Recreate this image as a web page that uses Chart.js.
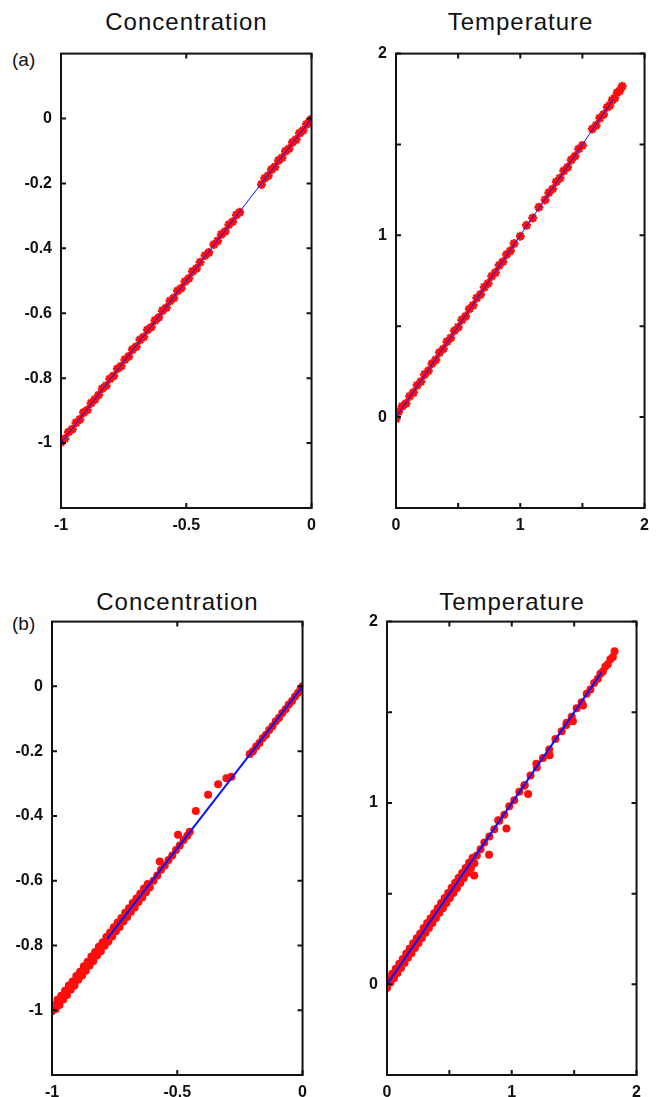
<!DOCTYPE html>
<html>
<head>
<meta charset="utf-8">
<script src="https://cdn.jsdelivr.net/npm/chart.js@4/dist/chart.umd.min.js"></script>
<style>
  body { margin: 0; background: #fff; }
  #wrap { position: relative; width: 657px; height: 1097px; overflow: hidden; background: #fff; }
  canvas { position: absolute; }
  .title { position: absolute; font-family: "Liberation Sans", Arial, sans-serif; font-size: 24px; line-height: 24px; letter-spacing: 1px; text-align: center; color: #111; }
  .tag { position: absolute; font-family: "Liberation Sans", Arial, sans-serif; font-size: 19px; line-height: 19px; color: #111; }
</style>
</head>
<body>
<div id="wrap">
  <div class="title" id="t1">Concentration</div>
  <div class="title" id="t2">Temperature</div>
  <div class="title" id="t3">Concentration</div>
  <div class="title" id="t4">Temperature</div>
  <div class="tag" style="left:12px;top:50px">(a)</div>
  <div class="tag" style="left:12px;top:614px">(b)</div>
  <canvas id="c1"></canvas>
  <canvas id="c2"></canvas>
  <canvas id="c3"></canvas>
  <canvas id="c4"></canvas>
</div>
<script>
// tick values / labels
const concTicksX = [-1, -0.5, 0];
const concLabelsX = ["-1", "-0.5", "0"];
const concTicksY = [-1, -0.8, -0.6, -0.4, -0.2, 0];
const concLabelsY = ["-1", "-0.8", "-0.6", "-0.4", "-0.2", "0"];
const tempTicks = [0, 0.5, 1, 1.5, 2];
const tempLabels = ["0", "", "1", "", "2"];

// (a) concentration: predicted vs actual
const concAX = [-1, -0.985, -0.97, -0.955, -0.94, -0.925, -0.91, -0.895, -0.88, -0.865, -0.85, -0.835, -0.82, -0.805,
  -0.79, -0.775, -0.76, -0.745, -0.73, -0.715, -0.7, -0.685, -0.67, -0.655, -0.64, -0.625, -0.61, -0.595, -0.58,
  -0.565, -0.55, -0.535, -0.52, -0.505, -0.49, -0.475, -0.46, -0.445, -0.425, -0.41, -0.39, -0.375, -0.36, -0.345,
  -0.33, -0.315, -0.3, -0.287, -0.2, -0.187, -0.173, -0.16, -0.146, -0.132, -0.118, -0.104, -0.09, -0.076, -0.062,
  -0.048, -0.034, -0.02, -0.008, 0];
const concAY = [-0.998, -0.987, -0.966, -0.957, -0.937, -0.927, -0.906, -0.898, -0.877, -0.866, -0.852, -0.832, -0.823, -0.802,
  -0.793, -0.771, -0.763, -0.743, -0.733, -0.712, -0.703, -0.682, -0.673, -0.651, -0.643, -0.622, -0.613, -0.592, -0.583,
  -0.562, -0.553, -0.531, -0.523, -0.502, -0.493, -0.471, -0.462, -0.443, -0.422, -0.413, -0.388, -0.377, -0.357, -0.348,
  -0.327, -0.318, -0.297, -0.289, -0.203, -0.184, -0.176, -0.157, -0.149, -0.129, -0.121, -0.101, -0.093, -0.073, -0.065,
  -0.045, -0.037, -0.018, -0.01, -0.002];
const concALine = [-1, 0];

// (a) temperature
const tempAX = [0, 0.02, 0.05, 0.08, 0.11, 0.14, 0.17, 0.2, 0.23, 0.26, 0.29, 0.32, 0.35, 0.38, 0.41, 0.44, 0.47, 0.5,
  0.53, 0.56, 0.59, 0.62, 0.65, 0.68, 0.71, 0.74, 0.77, 0.8, 0.83, 0.86, 0.89, 0.92, 0.95, 1.0, 1.05, 1.1, 1.15, 1.2,
  1.23, 1.26, 1.29, 1.32, 1.35, 1.38, 1.41, 1.44, 1.47, 1.5, 1.58, 1.61, 1.64, 1.67, 1.7, 1.72, 1.74, 1.76, 1.78, 1.8, 1.82];
const tempAY = [-0.01, 0.03, 0.06, 0.075, 0.115, 0.135, 0.175, 0.195, 0.235, 0.255, 0.295, 0.315, 0.355, 0.375, 0.415, 0.435,
  0.475, 0.495, 0.535, 0.555, 0.595, 0.615, 0.655, 0.675, 0.715, 0.735, 0.775, 0.795, 0.835, 0.855, 0.895, 0.915, 0.955,
  0.995, 1.055, 1.095, 1.155, 1.195, 1.235, 1.255, 1.295, 1.315, 1.355, 1.375, 1.415, 1.435, 1.475, 1.495, 1.585, 1.605,
  1.645, 1.665, 1.705, 1.715, 1.745, 1.755, 1.785, 1.795, 1.82];
const tempALine = [0, 1.75];

// (b) concentration
const concBX = [-1, -0.985, -0.97, -0.955, -0.94, -0.925, -0.91, -0.895, -0.88, -0.865, -0.85, -0.835, -0.82, -0.805,
  -0.79, -0.775, -0.76, -0.745, -0.73, -0.715, -0.7, -0.685, -0.67, -0.655, -0.64, -0.625, -0.61,
  -0.993, -0.978, -0.963, -0.948, -0.933, -0.918, -0.903, -0.888, -0.873, -0.858, -0.843, -0.828, -0.813, -0.798,
  -0.783, -0.768, -0.753, -0.738, -0.723, -0.708, -0.693, -0.678, -0.663, -0.648, -0.633, -0.618,
  -0.595, -0.58, -0.565, -0.55, -0.535, -0.52, -0.505, -0.49, -0.475, -0.46, -0.45,
  -0.57, -0.497, -0.426, -0.377, -0.337, -0.304, -0.284,
  -0.211, -0.198, -0.185, -0.172, -0.159, -0.146, -0.133, -0.12, -0.107, -0.094, -0.081, -0.068, -0.055, -0.042,
  -0.03, -0.018, -0.008, 0];
const concBY = [-1.003, -0.996, -0.984, -0.967, -0.953, -0.936, -0.924, -0.906, -0.893, -0.878, -0.862, -0.848, -0.831, -0.818,
  -0.801, -0.788, -0.772, -0.756, -0.743, -0.726, -0.712, -0.696, -0.683, -0.666, -0.652, -0.636, -0.621,
  -0.985, -0.968, -0.955, -0.94, -0.924, -0.911, -0.894, -0.881, -0.864, -0.85, -0.834, -0.82, -0.804, -0.79,
  -0.774, -0.76, -0.744, -0.729, -0.715, -0.699, -0.685, -0.669, -0.655, -0.64, -0.624, -0.61,
  -0.6, -0.584, -0.566, -0.553, -0.536, -0.522, -0.505, -0.491, -0.474, -0.461, -0.449,
  -0.541, -0.458, -0.385, -0.335, -0.302, -0.284, -0.279,
  -0.209, -0.2, -0.186, -0.175, -0.16, -0.149, -0.135, -0.123, -0.108, -0.097, -0.082, -0.071, -0.056, -0.045,
  -0.031, -0.02, -0.008, 0];
const concBLine = [-0.78, 0];

// (b) temperature
const tempBX = [0, 0.028, 0.056, 0.084, 0.112, 0.14, 0.168, 0.196, 0.224, 0.252, 0.28, 0.308, 0.336, 0.364, 0.392, 0.42,
  0.448, 0.476, 0.504, 0.532, 0.56, 0.588, 0.616, 0.644, 0.672, 0.7,
  0.014, 0.042, 0.07, 0.098, 0.126, 0.154, 0.182, 0.21, 0.238, 0.266, 0.294, 0.322, 0.35, 0.378, 0.406, 0.434, 0.462,
  0.49, 0.518, 0.546, 0.574, 0.602, 0.63, 0.658, 0.686,
  0.72, 0.75, 0.78, 0.82, 0.86, 0.9, 0.94, 0.98, 1.02, 1.06, 1.1, 1.15, 1.2, 1.25, 1.3, 1.35, 1.4, 1.44, 1.48, 1.52,
  1.56, 1.6, 1.63, 1.66, 1.69, 1.71, 1.73, 1.75, 1.77, 1.79, 1.81, 1.824,
  1.571, 1.49, 1.304, 1.131, 1.104, 0.957, 0.891, 0.818, 0.699, 1.197, 1.437];
const tempBY = [-0.02, 0.01, 0.034, 0.062, 0.09, 0.118, 0.146, 0.172, 0.2, 0.228, 0.256, 0.284, 0.31, 0.338, 0.366, 0.394,
  0.42, 0.448, 0.476, 0.504, 0.53, 0.558, 0.586, 0.614, 0.64, 0.668,
  0.03, 0.058, 0.086, 0.114, 0.14, 0.17, 0.198, 0.226, 0.254, 0.28, 0.31, 0.338, 0.364, 0.392, 0.42, 0.448, 0.476,
  0.504, 0.532, 0.56, 0.588, 0.614, 0.642, 0.67, 0.698,
  0.71, 0.745, 0.782, 0.815, 0.855, 0.902, 0.935, 0.982, 1.015, 1.062, 1.095, 1.152, 1.195, 1.248, 1.295, 1.352,
  1.395, 1.442, 1.475, 1.522, 1.555, 1.602, 1.625, 1.662, 1.685, 1.712, 1.725, 1.752, 1.765, 1.792, 1.805, 1.837,
  1.538, 1.451, 1.263, 1.049, 1.099, 0.859, 0.904, 0.714, 0.6, 1.216, 1.43];
const tempBLine = [0, 1.72];

const FONT = '"Liberation Sans", Arial, sans-serif';

// box round the plot with ticks pointing inwards on all four sides
const framePlugin = {
  id: "frame",
  afterDatasetsDraw(chart) {
    const { ctx, chartArea: a, scales } = chart;
    ctx.save();
    ctx.strokeStyle = "#111";
    ctx.lineWidth = 2;
    ctx.strokeRect(a.left, a.top, a.right - a.left, a.bottom - a.top);
    ctx.beginPath();
    scales.x.ticks.forEach((t) => {
      const px = scales.x.getPixelForValue(t.value);
      ctx.moveTo(px, a.bottom); ctx.lineTo(px, a.bottom - 5);
      ctx.moveTo(px, a.top); ctx.lineTo(px, a.top + 5);
    });
    scales.y.ticks.forEach((t) => {
      const py = scales.y.getPixelForValue(t.value);
      ctx.moveTo(a.left, py); ctx.lineTo(a.left + 5, py);
      ctx.moveTo(a.right, py); ctx.lineTo(a.right - 5, py);
    });
    ctx.stroke();
    ctx.restore();
  },
};

const makePanel = (p) => {
  const padL = 55, padT = 12, padR = 12;
  const canvas = document.getElementById(p.id);
  canvas.width = p.right - p.left + padL + padR;
  canvas.height = p.bottom - p.top + padT + p.padB;
  canvas.style.left = p.left - padL + "px";
  canvas.style.top = p.top - padT + "px";

  const title = document.getElementById(p.titleId);
  title.style.left = p.left + "px";
  title.style.width = p.right - p.left + "px";
  title.style.top = p.titleTop + "px";

  const points = p.xs.map((x, i) => ({ x: x, y: p.ys[i] }));
  const line = p.line.map((v) => ({ x: v, y: v }));

  const tickOpts = (labels, pad) => ({
    padding: pad,
    color: "#111",
    autoSkip: false,
    maxRotation: 0,
    font: { family: FONT, size: 16, weight: "bold" },
    callback: (v, i) => labels[i],
  });

  return new Chart(canvas, {
    type: "scatter",
    data: {
      datasets: [
        {
          type: "line",
          data: line,
          borderColor: "#0a14ff",
          borderWidth: p.lineWidth,
          pointRadius: 0,
          fill: false,
        },
        {
          data: points,
          backgroundColor: "#ff0d0d",
          borderColor: "#ff0d0d",
          borderWidth: p.marker === "star" ? 2.5 : 0,
          pointStyle: p.marker,
          pointRadius: p.radius,
        },
      ],
    },
    options: {
      responsive: false,
      animation: false,
      devicePixelRatio: 1,
      layout: { autoPadding: false, padding: { left: 0, top: padT, right: padR, bottom: 0 } },
      plugins: { legend: { display: false }, tooltip: { enabled: false } },
      scales: {
        x: {
          type: "linear",
          min: p.xMin,
          max: p.xMax,
          grid: { display: false, drawTicks: false },
          border: { display: false },
          afterBuildTicks: (s) => { s.ticks = p.xTicks.map((v) => ({ value: v })); },
          afterFit: (s) => { s.height = p.padB; },
          ticks: tickOpts(p.xLabels, p.xPad),
        },
        y: {
          type: "linear",
          min: p.yMin,
          max: p.yMax,
          grid: { display: false, drawTicks: false },
          border: { display: false },
          afterBuildTicks: (s) => { s.ticks = p.yTicks.map((v) => ({ value: v })); },
          afterFit: (s) => { s.width = padL; },
          ticks: tickOpts(p.yLabels, 9),
        },
      },
    },
    plugins: [framePlugin],
  });
};

makePanel({
  id: "c1", titleId: "t1", titleTop: 10,
  left: 61, right: 312, top: 47, bottom: 508, padB: 32, xPad: 8,
  xMin: -1, xMax: 0, yMin: -1.2, yMax: 0.2,
  xTicks: concTicksX, xLabels: concLabelsX, yTicks: concTicksY, yLabels: concLabelsY,
  xs: concAX, ys: concAY, line: concALine, radius: 4.5, lineWidth: 1, marker: "star",
});
makePanel({
  id: "c2", titleId: "t2", titleTop: 10,
  left: 396, right: 645, top: 47, bottom: 508, padB: 32, xPad: 8,
  xMin: 0, xMax: 2, yMin: -0.5, yMax: 2,
  xTicks: tempTicks, xLabels: tempLabels, yTicks: tempTicks, yLabels: tempLabels,
  xs: tempAX, ys: tempAY, line: tempALine, radius: 4.5, lineWidth: 1, marker: "star",
});
makePanel({
  id: "c3", titleId: "t3", titleTop: 590,
  left: 52, right: 303, top: 615, bottom: 1075, padB: 22, xPad: 8,
  xMin: -1, xMax: 0, yMin: -1.2, yMax: 0.2,
  xTicks: concTicksX, xLabels: concLabelsX, yTicks: concTicksY, yLabels: concLabelsY,
  xs: concBX, ys: concBY, line: concBLine, radius: 4, lineWidth: 2, marker: "circle",
});
makePanel({
  id: "c4", titleId: "t4", titleTop: 590,
  left: 387, right: 637, top: 615, bottom: 1075, padB: 22, xPad: 8,
  xMin: 0, xMax: 2, yMin: -0.5, yMax: 2,
  xTicks: tempTicks, xLabels: tempLabels, yTicks: tempTicks, yLabels: tempLabels,
  xs: tempBX, ys: tempBY, line: tempBLine, radius: 4, lineWidth: 2, marker: "circle",
});
</script>
</body>
</html>
